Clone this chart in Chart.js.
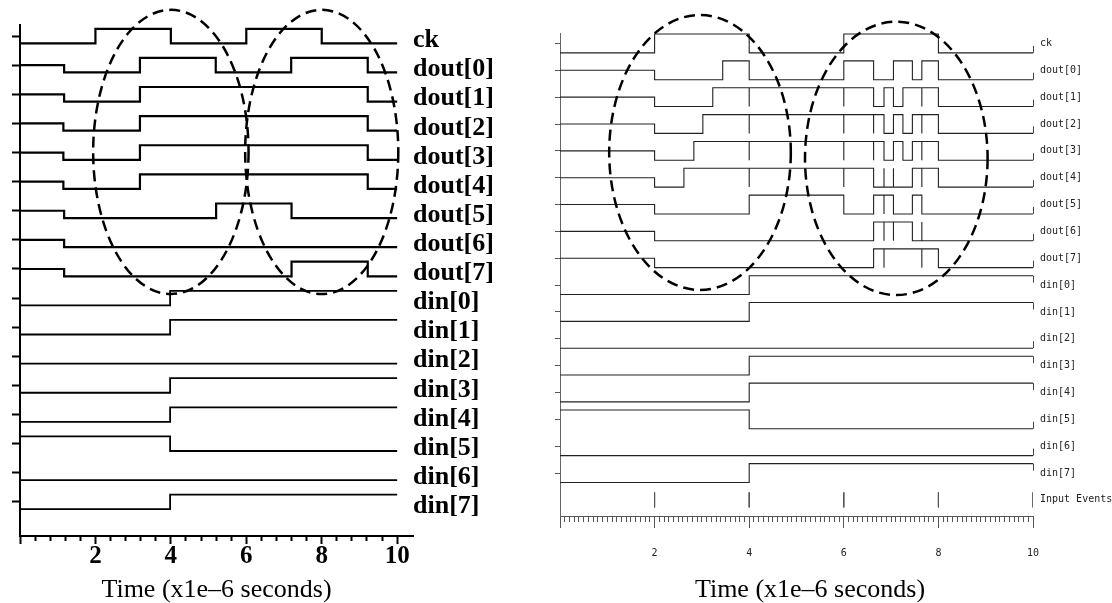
<!DOCTYPE html>
<html>
<head>
<meta charset="utf-8">
<title>Waveforms</title>
<script src="https://cdn.jsdelivr.net/npm/chart.js@4.4.1/dist/chart.umd.min.js"></script>
<style>
  body { margin: 0; background: #fff; }
  #wrap { position: relative; width: 1112px; height: 603px; overflow: hidden; }
  canvas { position: absolute; top: 0; }
</style>
</head>
<body>
<div id="wrap">
  <canvas id="left-wave" width="508" height="603" style="left:0;width:508px;height:603px"></canvas>
  <canvas id="right-wave" width="604" height="603" style="left:508px;width:604px;height:603px"></canvas>
</div>
<script>
// signal names, top to bottom
const leftNames = ["ck", "dout[0]", "dout[1]", "dout[2]", "dout[3]", "dout[4]", "dout[5]", "dout[6]", "dout[7]",
                   "din[0]", "din[1]", "din[2]", "din[3]", "din[4]", "din[5]", "din[6]", "din[7]"];
const rightNames = [...leftNames, "Input Events"];
const timeTicks = [2, 4, 6, 8, 10];
const endTime = 10;

// [time, level]  level: 1 = high, 0 = low, 0.5 = unknown
const leftCk = [[0, 0], [2, 1], [4, 0], [6, 1], [8, 0]];
const leftDout = [
  [[0, 0.5], [1.17, 0], [3.18, 1], [5.19, 0], [7.19, 1], [9.22, 0]],
  [[0, 0.5], [1.17, 0], [3.18, 1], [9.22, 0]],
  [[0, 0.5], [1.15, 0], [3.18, 1], [9.22, 0]],
  [[0, 0.5], [1.15, 0], [3.18, 1], [9.22, 0]],
  [[0, 0.5], [1.15, 0], [3.18, 1], [9.22, 0]],
  [[0, 0.5], [1.17, 0], [5.2, 1], [7.2, 0]],
  [[0, 0.5], [1.17, 0]],
  [[0, 0.5], [1.17, 0], [7.2, 1], [9.22, 0]]
];
const leftDin = [
  [[0, 0], [3.98, 1]],
  [[0, 0], [3.98, 1]],
  [[0, 0]],
  [[0, 0], [3.98, 1]],
  [[0, 0], [3.98, 1]],
  [[0, 1], [3.98, 0]],
  [[0, 0]],
  [[0, 0], [3.98, 1]]
];

const rightCk = [[0, 0], [2, 1], [4, 0], [6, 1], [8, 0]];
const rightDout = [
  [[0, 0.5], [2, 0], [3.44, 1], [4, 0], [6, 1], [6.63, 0], [7.05, 1], [7.45, 0], [7.65, 1], [8, 0]],
  [[0, 0.5], [2, 0], [3.23, 1], [6.63, 0], [6.85, 1], [7.05, 0], [7.25, 1], [8, 0]],
  [[0, 0.5], [2, 0], [3.02, 1], [6.85, 0], [7.05, 1], [7.25, 0], [7.45, 1], [8, 0]],
  [[0, 0.5], [2, 0], [2.83, 1], [6.85, 0], [7.05, 1], [7.25, 0], [7.45, 1], [8, 0]],
  [[0, 0.5], [2, 0], [2.62, 1], [6.63, 0], [7.45, 1], [8, 0]],
  [[0, 0.5], [2, 0], [4, 1], [6, 0], [6.63, 1], [7.05, 0], [7.45, 1], [7.65, 0]],
  [[0, 0.5], [2, 0], [6.63, 1], [7.45, 0]],
  [[0, 0.5], [2, 0], [6.63, 1], [8, 0]]
];
// zero-width glitches (times) on the dout rows
const rightDoutGlitch = [
  [],
  [4, 6, 7.65],
  [4, 6, 6.63, 7.65],
  [4, 6, 6.63, 7.65],
  [4, 6, 6.85, 7.05, 7.65],
  [6.85],
  [6.85, 7.05, 7.65],
  [6.85, 7.65]
];
const rightDin = [
  [[0, 0], [4, 1]],
  [[0, 0], [4, 1]],
  [[0, 0]],
  [[0, 0], [4, 1]],
  [[0, 0], [4, 1]],
  [[0, 1], [4, 0]],
  [[0, 0]],
  [[0, 0], [4, 1]]
];
const inputEvents = [2, 4, 6, 8, 10];

const serif = '"Liberation Serif", "Times New Roman", serif';
const mono = '"DejaVu Sans Mono", "Liberation Mono", monospace';

// turn a list of changes into step points on one row
function toPoints(changes, glitches, row, amp) {
  const evs = changes.map(([t, lv]) => ({ t, lv, g: false }));
  glitches.forEach(t => evs.push({ t, g: true }));
  evs.sort((a, b) => a.t - b.t || (a.g ? 1 : -1));
  const level = lv => row + (lv - 0.5) * 2 * amp;
  const pts = [];
  let cur = 0;
  evs.forEach(e => {
    if (e.g) {
      pts.push({ x: e.t, y: level(1 - cur) }, { x: e.t, y: level(cur) });
    } else {
      cur = e.lv;
      pts.push({ x: e.t, y: level(cur) });
    }
  });
  pts.push({ x: endTime, y: level(cur) });
  return pts;
}

// dashed ovals, given in data units
function ovals(list) {
  return {
    id: "ovals",
    afterDraw(chart) {
      const { ctx, scales: { x, y } } = chart;
      ctx.save();
      ctx.setLineDash([11, 6]);
      ctx.lineWidth = 2.5;
      ctx.strokeStyle = "#000";
      list.forEach(o => {
        const cx = x.getPixelForValue(o.t), cy = y.getPixelForValue(o.v);
        const rx = x.getPixelForValue(o.t + o.rt) - cx;
        const ry = cy - y.getPixelForValue(o.v + o.rv);
        ctx.beginPath();
        ctx.ellipse(cx, cy, rx, ry, 0, 0, Math.PI * 2);
        ctx.stroke();
      });
      ctx.restore();
    }
  };
}

// little end marks at the right end of every trace (right panel)
const endMarks = {
  id: "endMarks",
  afterDatasetsDraw(chart) {
    const { ctx, scales: { x, y } } = chart;
    ctx.save();
    ctx.strokeStyle = "#444";
    ctx.lineWidth = 1;
    chart.data.datasets.forEach(ds => {
      if (ds.rowMid === undefined) return;
      const last = ds.data[ds.data.length - 1];
      const px = Math.round(x.getPixelForValue(last.x)) + 0.5;
      const py = y.getPixelForValue(last.y);
      const dir = Math.sign(y.getPixelForValue(ds.rowMid) - py);
      if (!dir) return;
      ctx.beginPath();
      ctx.moveTo(px, py);
      ctx.lineTo(px, py + dir * 7);
      ctx.stroke();
    });
    ctx.restore();
  }
};

// ---------- left panel ----------
const leftWaves = [leftCk, ...leftDout, ...leftDin];
const leftSets = leftWaves.map((w, i) => ({
  label: leftNames[i],
  data: toPoints(w, [], 16 - i, 0.25),
  borderColor: "#000",
  borderWidth: i < 9 ? 2.2 : 1.8,
  stepped: true,
  pointRadius: 0
}));

new Chart(document.getElementById("left-wave"), {
  type: "line",
  data: { datasets: leftSets },
  options: {
    responsive: false,
    animation: false,
    layout: { padding: { top: 25, left: 0, right: 0, bottom: 0 } },
    plugins: { legend: { display: false }, tooltip: { enabled: false } },
    scales: {
      x: {
        type: "linear", min: 0, max: 10.42,
        afterBuildTicks: s => { s.ticks = Array.from({ length: 26 }, (_, k) => ({ value: k * 2 / 5 })); },
        afterFit: s => { s.height = 67; },
        ticks: {
          autoSkip: false, maxRotation: 0, padding: 0, color: "#000",
          font: { family: serif, size: 25, weight: "bold", lineHeight: 1 },
          callback: (v, i) => (i % 5 === 0 && timeTicks.includes(Math.round(v))) ? String(Math.round(v)) : ""
        },
        grid: {
          drawOnChartArea: false, tickLength: 8, tickColor: "#000", tickWidth: 2,
          tickBorderDash: c => c.index % 5 === 0 ? [] : [4, 20]
        },
        border: { color: "#000", width: 2 },
        title: {
          display: true, text: "Time (x1e\u20136 seconds)", color: "#000",
          font: { family: serif, size: 26, weight: "normal", lineHeight: 1 },
          padding: { top: 0, bottom: 0 }
        }
      },
      y: {
        min: -1.17, max: 16.38,
        afterBuildTicks: s => { s.ticks = leftNames.map((n, i) => ({ value: 16 - i })); },
        afterFit: s => { s.width = 20; },
        ticks: { display: false },
        grid: { drawOnChartArea: false, tickLength: 8, tickColor: "#000", tickWidth: 2 },
        border: { color: "#000", width: 2 }
      },
      names: {
        position: "right", min: -1.17, max: 16.38,
        afterBuildTicks: s => { s.ticks = leftNames.map((n, i) => ({ value: 16 - i - 0.15 })); },
        afterFit: s => { s.width = 95; },
        ticks: {
          padding: 0, color: "#000",
          font: { family: serif, size: 26, weight: "bold", lineHeight: 1 },
          callback: v => leftNames[Math.round(15.85 - v)]
        },
        grid: { display: false, drawTicks: false },
        border: { display: false }
      }
    }
  },
  plugins: [ovals([
    { t: 4.0, v: 12.02, rt: 2.06, rv: 4.88 },
    { t: 8.0, v: 12.02, rt: 2.03, rv: 4.88 }
  ])]
});

// ---------- right panel ----------
const rightWaves = [rightCk, ...rightDout, ...rightDin];
const rightGlitches = [[], ...rightDoutGlitch, ...rightDin.map(() => [])];
const rightSets = rightWaves.map((w, i) => ({
  label: rightNames[i],
  data: toPoints(w, rightGlitches[i], 17 - i, 0.35),
  rowMid: 17 - i,
  borderColor: "#222",
  borderWidth: 1.1,
  stepped: true,
  pointRadius: 0
}));
const eventPoints = [];
inputEvents.forEach(t => eventPoints.push({ x: t, y: 0.28 }, { x: t, y: -0.28 }, { x: t, y: null }));
rightSets.push({
  label: "Input Events",
  data: eventPoints,
  borderColor: "#555",
  borderWidth: 1,
  spanGaps: false,
  pointRadius: 0
});

new Chart(document.getElementById("right-wave"), {
  type: "line",
  data: { datasets: rightSets },
  options: {
    responsive: false,
    animation: false,
    layout: { padding: { top: 33, left: 0, right: 0, bottom: 0 } },
    plugins: {
      legend: { display: false },
      tooltip: { enabled: false },
      title: {
        display: true, position: "bottom", text: "Time (x1e\u20136 seconds)", color: "#000",
        font: { family: serif, size: 26, weight: "normal", lineHeight: 1 },
        padding: { top: 0, bottom: 0 }
      }
    },
    scales: {
      x: {
        type: "linear", min: 0, max: 10,
        afterBuildTicks: s => { s.ticks = Array.from({ length: 101 }, (_, k) => ({ value: k / 10 })); },
        afterFit: s => { s.height = 61; },
        ticks: {
          autoSkip: false, maxRotation: 0, padding: 20, color: "#222",
          font: { family: mono, size: 10, lineHeight: 1 },
          callback: (v, i) => (i % 20 === 0 && timeTicks.includes(v)) ? String(v) : ""
        },
        grid: {
          drawOnChartArea: false, tickLength: 12, tickColor: "#555", tickWidth: 1,
          tickBorderDash: c => c.index % 20 === 0 ? [] : [5, 30]
        },
        border: { color: "#555", width: 1 }
      },
      y: {
        min: -0.6, max: 17.39,
        afterBuildTicks: s => { s.ticks = leftNames.map((n, i) => ({ value: 17 - i })); },
        afterFit: s => { s.width = 52; },
        ticks: { display: false },
        grid: { drawOnChartArea: false, tickLength: 5, tickColor: "#555", tickWidth: 1 },
        border: { color: "#666", width: 1 }
      },
      names: {
        position: "right", min: -0.6, max: 17.39,
        afterBuildTicks: s => { s.ticks = rightNames.map((n, i) => ({ value: 17 - i })); },
        afterFit: s => { s.width = 79; },
        ticks: {
          padding: 7, color: "#222",
          font: { family: mono, size: 10, lineHeight: 1 },
          callback: v => rightNames[Math.round(17 - v)]
        },
        grid: { display: false, drawTicks: false },
        border: { display: false }
      }
    }
  },
  plugins: [endMarks, ovals([
    { t: 2.96, v: 12.94, rt: 1.92, rv: 5.12 },
    { t: 7.11, v: 12.72, rt: 1.93, rv: 5.09 }
  ])]
});
</script>
</body>
</html>
